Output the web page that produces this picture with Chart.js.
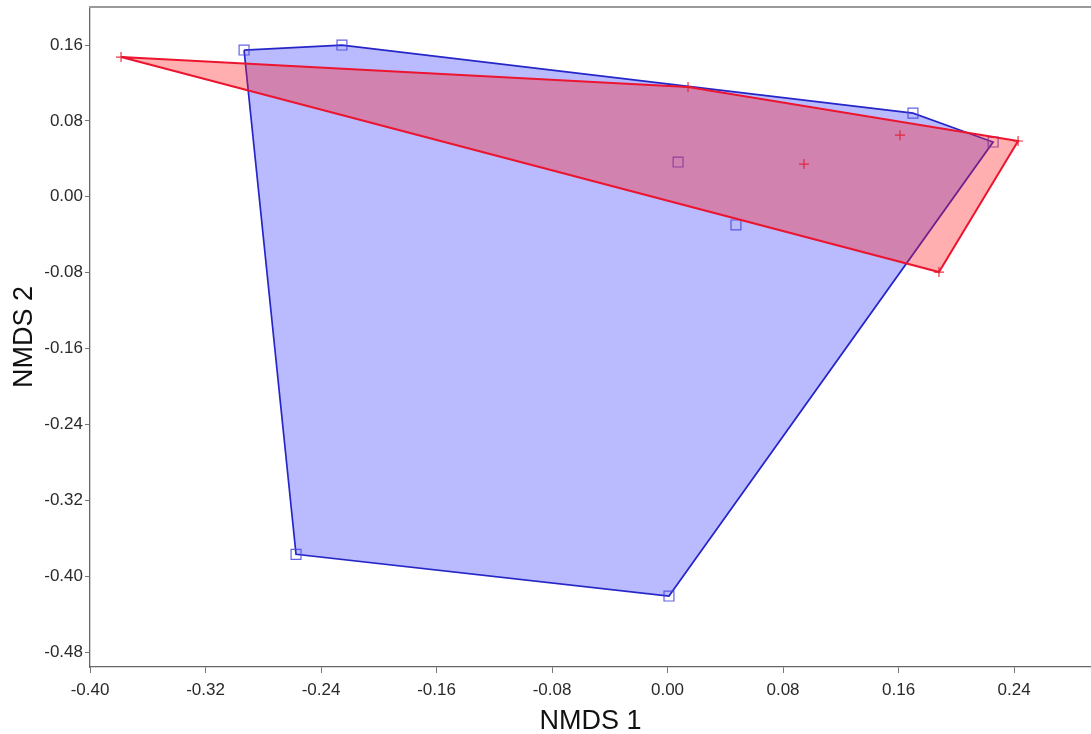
<!DOCTYPE html>
<html><head><meta charset="utf-8">
<script src="https://cdn.jsdelivr.net/npm/chart.js@4"></script>
<style>html,body{margin:0;padding:0;background:#fff;overflow:hidden}canvas{display:block}</style>
</head><body><canvas id="c" width="1091" height="734" style="width:1091px;height:734px"></canvas>
<script>
// Group A (blue squares) NMDS coordinates
const blueX = [-0.2933, -0.2255, 0.1700, 0.2255, 0.0073, 0.0474, -0.2573, 0.0010];
const blueY = [ 0.1547,  0.1600, 0.0882, 0.0577, 0.0366, -0.0297, -0.3770, -0.4210];
// Group B (red crosses) NMDS coordinates
const redX = [-0.3785, 0.0142, 0.1610, 0.0945, 0.2428, 0.1880];
const redY = [ 0.1473, 0.1157, 0.0650, 0.0345, 0.0588, -0.0794];
// Axis ticks
const xTicks = [-0.40, -0.32, -0.24, -0.16, -0.08, 0.00, 0.08, 0.16, 0.24];
const yTicks = [0.16, 0.08, 0.00, -0.08, -0.16, -0.24, -0.32, -0.40, -0.48];
const xRange = [-0.40, 0.2933];
const yRange = [-0.4958, 0.2001];
const xTitle = 'NMDS 1';
const yTitle = 'NMDS 2';

function toPts(xs, ys){ return xs.map((x,i)=>({x:x, y:ys[i]})); }
function hull(pts){
  const p = pts.slice().sort((a,b)=>a.x-b.x || a.y-b.y);
  const cross=(o,a,b)=>(a.x-o.x)*(b.y-o.y)-(a.y-o.y)*(b.x-o.x);
  const lower=[], upper=[];
  for(const q of p){ while(lower.length>=2 && cross(lower[lower.length-2],lower[lower.length-1],q)<=0) lower.pop(); lower.push(q); }
  for(let i=p.length-1;i>=0;i--){ const q=p[i]; while(upper.length>=2 && cross(upper[upper.length-2],upper[upper.length-1],q)<=0) upper.pop(); upper.push(q); }
  upper.pop(); lower.pop();
  const h = lower.concat(upper);
  h.push(h[0]);
  return h;
}
const bluePts = toPts(blueX, blueY);
const redPts = toPts(redX, redY);

const tickFont = {family: '"Liberation Sans", Arial, sans-serif', size: 17};
const titleFont = {family: '"Liberation Sans", Arial, sans-serif', size: 27, lineHeight: 0.9};
const noPad = s => { s.paddingTop = 0; s.paddingBottom = 0; s.paddingLeft = 0; s.paddingRight = 0; };

new Chart(document.getElementById('c'), {
  type: 'scatter',
  data: {
    datasets: [
      {label:'A hull', order:4, data: hull(bluePts), showLine:true, fill:'shape', tension:0,
       borderColor:'#2626c8', borderWidth:1.7, backgroundColor:'rgba(0,0,255,0.27)', pointRadius:0},
      {label:'A', order:3, data: bluePts, pointStyle:'rect', pointRadius:7, pointBorderWidth:1.2,
       borderColor:'rgba(70,70,220,0.85)', backgroundColor:'rgba(0,0,0,0)'},
      {label:'B hull', order:2, data: hull(redPts), showLine:true, fill:'shape', tension:0,
       borderColor:'#ec1530', borderWidth:2, backgroundColor:'rgba(255,20,20,0.34)', pointRadius:0},
      {label:'B', order:1, data: redPts, pointStyle:'cross', pointRadius:5, pointBorderWidth:1.2,
       borderColor:'rgba(225,30,50,0.9)', backgroundColor:'rgba(0,0,0,0)'}
    ]
  },
  options: {
    responsive: false, animation: false, devicePixelRatio: 1,
    layout: {autoPadding: false, padding: {top: 7, right: 0, left: 0, bottom: 0}},
    plugins: {legend: {display:false}, tooltip: {enabled:false}},
    scales: {
      x: {
        type:'linear', position:'bottom', min:xRange[0], max:xRange[1],
        afterBuildTicks: s => { s.ticks = xTicks.map(v=>({value:v})); },
        afterFit: s => { s.height = 67; noPad(s); },
        ticks: {callback: v => Number(v).toFixed(2), font: tickFont, color:'#2a2a2a', padding: 7, maxRotation:0, autoSkip:false},
        grid: {display:true, drawOnChartArea:false, drawTicks:true, tickLength:6, color:'#777'},
        border: {display:true, color:'#666', width:1.3},
        title: {display:true, text:xTitle, font:titleFont, color:'#111', padding:{top:0,bottom:0}}
      },
      y: {
        type:'linear', position:'left', min:yRange[0], max:yRange[1],
        afterBuildTicks: s => { s.ticks = yTicks.map(v=>({value:v})); },
        afterFit: s => { s.width = 90; noPad(s); },
        ticks: {callback: v => Number(v).toFixed(2), font: tickFont, color:'#2a2a2a', padding: 2, autoSkip:false},
        grid: {display:true, drawOnChartArea:false, drawTicks:true, tickLength:5, color:'#777'},
        border: {display:true, color:'#666', width:1.3},
        title: {display:true, text:yTitle, font:titleFont, color:'#111', padding:{top:12,bottom:0}}
      },
      x2: {
        type:'linear', position:'top', min:xRange[0], max:xRange[1],
        ticks:{display:false}, grid:{display:false, drawTicks:false},
        border:{display:true, color:'#999', width:2},
        afterFit: s => { s.height = 0; noPad(s); }
      }
    }
  }
});
</script></body></html>
